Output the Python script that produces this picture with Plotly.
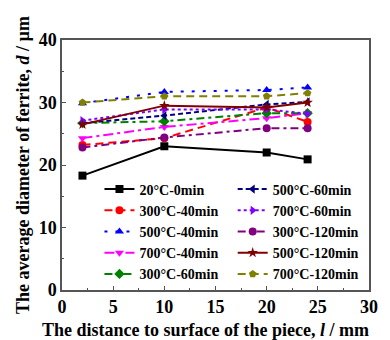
import plotly.graph_objects as go

x = [2, 10, 20, 24]

series_names = [
    "20°C-0min", "300°C-40min", "500°C-40min", "700°C-40min", "300°C-60min",
    "500°C-60min", "700°C-60min", "300°C-120min", "500°C-120min", "700°C-120min",
]
y_20_0 = [18.3, 23.0, 22.0, 20.9]
y_300_40 = [23.2, 24.3, 29.2, 26.9]
y_500_40 = [29.9, 31.7, 32.0, 32.4]
y_700_40 = [24.3, 26.1, 27.5, 28.3]
y_300_60 = [26.7, 27.0, 28.3, 28.3]
y_500_60 = [26.7, 27.9, 29.7, 30.1]
y_700_60 = [27.1, 28.9, 28.9, 28.2]
y_300_120 = [22.8, 24.4, 25.9, 25.9]
y_500_120 = [26.5, 29.5, 29.2, 30.0]
y_700_120 = [30.0, 31.0, 31.0, 31.5]

values = [y_20_0, y_300_40, y_500_40, y_700_40, y_300_60,
          y_500_60, y_700_60, y_300_120, y_500_120, y_700_120]
colors = ["#000000", "#FF0000", "#0000FF", "#FF00FF", "#008000",
          "#000080", "#8000FF", "#800080", "#800000", "#808000"]
dashes = ["solid", "8px,5px", "3px,8px", "10px,4px,3px,4px", "8px,4px,3px,4px",
          "5px,3px", "dot", "8px,4px,3px,4px", "solid", "8px,5px"]
symbols = ["square", "circle", "triangle-up", "triangle-down", "diamond",
           "triangle-left", "triangle-right", "circle", "star", "pentagon"]

FONT = "Liberation Serif, Times New Roman, serif"

fig = go.Figure()
for i, (name, yv) in enumerate(zip(series_names, values)):
    fig.add_trace(go.Scatter(
        x=x, y=yv, name=name, mode="lines+markers",
        line=dict(color=colors[i], dash=dashes[i], width=2),
        marker=dict(symbol=symbols[i], size=8, color=colors[i]),
        legend="legend" if i < 5 else "legend2",
    ))

legend_common = dict(
    font=dict(family=FONT, size=14, color="black", weight="bold"),
    bgcolor="rgba(0,0,0,0)", borderwidth=0, itemwidth=30,
    yanchor="top", xanchor="left", tracegroupgap=0,
)
fig.update_layout(
    width=382, height=332,
    margin=dict(l=54, r=17, t=32, b=50),
    paper_bgcolor="white", plot_bgcolor="white",
    font=dict(family=FONT, color="black"),
    legend=dict(x=0.122, y=0.466, **legend_common),
    legend2=dict(x=0.556, y=0.466, **legend_common),
    showlegend=True,
)
axis_common = dict(
    showline=True, linecolor="#555555", linewidth=1.5, mirror=True,
    ticks="inside", ticklen=4, tickcolor="#555555", showgrid=False, zeroline=False,
    tickfont=dict(family=FONT, size=18, color="black", weight="bold"),
)
fig.update_xaxes(
    range=[0, 30], dtick=5, tick0=0,
    minor=dict(dtick=2.5, ticks="inside", ticklen=2, tickcolor="#555555"),
    **axis_common,
)
fig.update_yaxes(
    range=[0, 40], dtick=10, tick0=0,
    minor=dict(dtick=5, ticks="inside", ticklen=2, tickcolor="#555555"),
    title=dict(text="The average diameter of ferrite, <i>d</i> / µm",
               font=dict(family=FONT, size=18, color="black", weight="bold"), standoff=4),
    **axis_common,
)
fig.add_annotation(
    text="The distance to surface of the piece, <i>l</i> / mm",
    xref="paper", yref="paper", x=0.469, y=-0.16,
    xanchor="center", yanchor="middle", showarrow=False,
    font=dict(family=FONT, size=18, color="black", weight="bold"),
)
fig.write_html("out.html")
